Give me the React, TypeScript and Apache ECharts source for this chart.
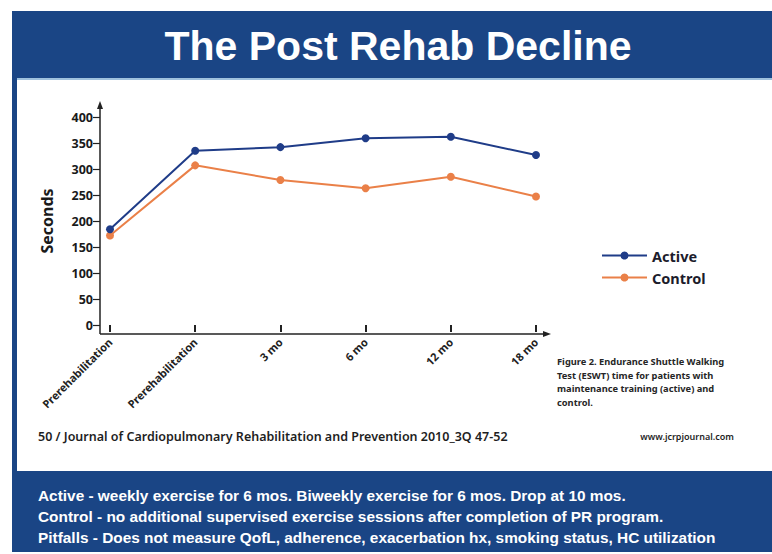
import React, { useEffect, useRef } from "react";
import * as echarts from "echarts";

const categories = ["Prerehabilitation", "Prerehabilitation", "3 mo", "6 mo", "12 mo", "18 mo"];
const activeValues = [184, 335, 342, 359, 362, 327];
const controlValues = [172, 307, 279, 263, 285, 247];
const seriesNames = ["Active", "Control"];
const titleText = "The Post Rehab Decline";
const journalText = "50 / Journal of Cardiopulmonary Rehabilitation and Prevention 2010_3Q 47-52";
const siteText = "www.jcrpjournal.com";
const captionLines = [
  "Figure 2. Endurance Shuttle Walking",
  "Test (ESWT) time for patients with",
  "maintenance training (active) and",
  "control.",
];
const noteLines = [
  "Active - weekly exercise for 6 mos. Biweekly exercise for 6 mos. Drop at 10 mos.",
  "Control - no additional supervised exercise sessions after completion of PR program.",
  "Pitfalls - Does not measure QofL, adherence, exacerbation hx, smoking status, HC utilization",
];

const BLUE = "#1a4585";
const ACTIVE = "#1f3c88";
const CONTROL = "#ea8048";

export default function App() {
  const ref = useRef<HTMLDivElement>(null);
  useEffect(() => {
    document.body.style.margin = "0";
    const chart = echarts.init(ref.current!, null, { renderer: "svg" });
    const option: any = {
      animation: false,
      backgroundColor: "#ffffff",
      grid: { left: 110, right: 236, top: 117, bottom: 229, containLabel: false },
      legend: {
        data: seriesNames,
        orient: "vertical",
        left: 596,
        top: 243,
        itemWidth: 45,
        itemHeight: 10,
        itemGap: 7,
        textStyle: { fontFamily: "Noto Sans", fontWeight: "bold", fontSize: 14.5, color: "#1c1c2c" },
      },
      xAxis: {
        type: "category",
        data: categories,
        boundaryGap: false,
        offset: 9,
        axisLine: { show: false },
        axisTick: { show: true, length: 7, lineStyle: { color: "#222", width: 2 } },
        axisLabel: {
          rotate: 45,
          margin: 6,
          interval: 0,
          fontFamily: "Noto Sans",
          fontWeight: "bold",
          fontSize: 11,
          color: "#222",
        },
        splitLine: { show: false },
      },
      yAxis: {
        type: "value",
        min: 0,
        max: 400,
        interval: 50,
        offset: 10,
        name: "Seconds",
        nameLocation: "middle",
        nameGap: 45,
        nameTextStyle: { fontFamily: "Noto Sans", fontWeight: "bold", fontSize: 16, color: "#1a1a1a" },
        axisLine: { show: false },
        axisTick: { show: true, length: 7, lineStyle: { color: "#222", width: 1.2 } },
        axisLabel: { fontFamily: "Noto Sans", fontWeight: "bold", fontSize: 12.5, color: "#1a1a1a", margin: 7 },
        splitLine: { show: false },
      },
      series: [
        {
          name: seriesNames[0],
          type: "line",
          data: activeValues,
          symbol: "circle",
          symbolSize: 8,
          itemStyle: { color: ACTIVE },
          lineStyle: { color: ACTIVE, width: 2 },
          z: 3,
        },
        {
          name: seriesNames[1],
          type: "line",
          data: controlValues,
          symbol: "circle",
          symbolSize: 8,
          itemStyle: { color: CONTROL },
          lineStyle: { color: CONTROL, width: 2 },
          z: 2,
        },
      ],
      graphic: [
        { type: "rect", z: -10, shape: { x: 12, y: 11, width: 760, height: 541 }, style: { fill: BLUE } },
        { type: "rect", z: -9, shape: { x: 17, y: 78, width: 755, height: 2 }, style: { fill: "#9fc1dd" } },
        { type: "rect", z: -9, shape: { x: 17, y: 80, width: 755, height: 391 }, style: { fill: "#ffffff" } },
        {
          type: "text",
          x: 398,
          y: 46,
          style: {
            text: titleText,
            fill: "#ffffff",
            font: "bold 41px 'Liberation Sans', Arial, sans-serif",
            align: "center",
            verticalAlign: "middle",
          },
        },
        // axis lines with arrows
        { type: "line", shape: { x1: 100, y1: 106, x2: 100, y2: 334 }, style: { stroke: "#222", lineWidth: 1.5 } },
        { type: "line", shape: { x1: 100, y1: 334, x2: 546, y2: 334 }, style: { stroke: "#222", lineWidth: 1.5 } },
        { type: "polygon", shape: { points: [[100, 101], [97, 109], [103, 109]] }, style: { fill: "#222" } },
        { type: "polygon", shape: { points: [[551, 334], [543, 331], [543, 337]] }, style: { fill: "#222" } },
        {
          type: "text",
          x: 557,
          y: 355,
          style: {
            text: captionLines.join("\n"),
            fill: "#262626",
            font: "bold 9.3px 'Noto Sans', sans-serif",
            lineHeight: 13.5,
          },
        },
        {
          type: "text",
          x: 38,
          y: 436,
          style: {
            text: journalText,
            fill: "#1f1f1f",
            font: "600 12.5px 'Noto Sans', sans-serif",
            verticalAlign: "middle",
          },
        },
        {
          type: "text",
          x: 734,
          y: 436,
          style: {
            text: siteText,
            fill: "#1f1f1f",
            font: "600 9px 'Noto Sans', sans-serif",
            align: "right",
            verticalAlign: "middle",
          },
        },
        {
          type: "text",
          x: 38,
          y: 485,
          style: {
            text: noteLines.join("\n"),
            fill: "#ffffff",
            font: "bold 15.4px 'Liberation Sans', Arial, sans-serif",
            lineHeight: 21,
          },
        },
      ],
    };
    chart.setOption(option);
    return () => chart.dispose();
  }, []);
  return <div ref={ref} style={{ width: 772, height: 554 }} />;
}
